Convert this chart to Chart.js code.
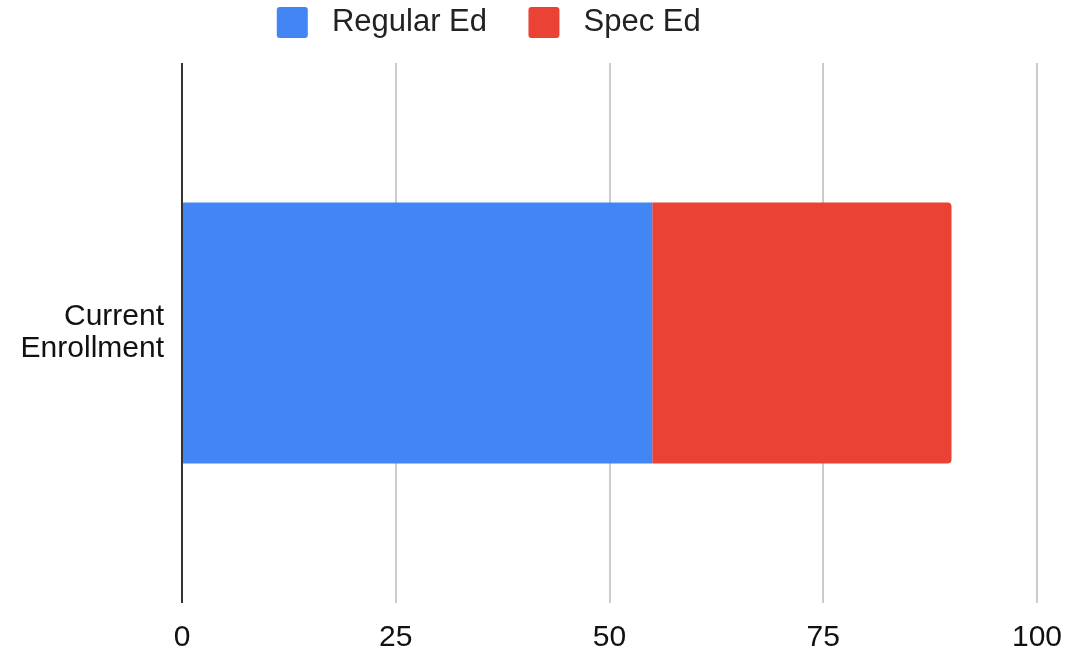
<!DOCTYPE html>
<html lang="en">
<head>
    <meta charset="UTF-8">
    <title>Current Enrollment</title>
    <script src="https://cdn.jsdelivr.net/npm/chart.js@4.4.0/dist/chart.umd.min.js"></script>
    <style>
        body { margin: 0; background: #fff; }
        #wrap { width: 1068px; height: 653px; }
    </style>
</head>
<body>
    <div id="wrap"><canvas id="enrollChart" width="1068" height="653"></canvas></div>

    <script>
        // data
        const categories = [['Current', 'Enrollment']];
        const regularEd = [55];
        const specEd = [35];
        const xTicks = [0, 25, 50, 75, 100];

        Chart.defaults.font.family = "'Liberation Sans', Arial, sans-serif";
        Chart.defaults.color = '#222';

        // legend: extra room under it, and centred a bit left of the canvas middle
        const legendTweaks = {
            id: 'legendTweaks',
            beforeInit(chart) {
                const fit = chart.legend.fit;
                chart.legend.fit = function () {
                    fit.call(this);
                    this.height += 15;
                };
            },
            afterLayout(chart) {
                chart.legend.right = chart.width - 56;
            }
        };

        const ctx = document.getElementById('enrollChart').getContext('2d');
        new Chart(ctx, {
            type: 'bar',
            data: {
                labels: categories,
                datasets: [{
                    label: 'Regular Ed',
                    data: regularEd,
                    backgroundColor: '#4285F4',
                    borderRadius: 0
                }, {
                    label: 'Spec Ed',
                    data: specEd,
                    backgroundColor: '#EA4335',
                    borderRadius: 4
                }]
            },
            plugins: [legendTweaks],
            options: {
                indexAxis: 'y',
                responsive: false,
                animation: false,
                layout: { padding: 0 },
                plugins: {
                    tooltip: { enabled: false },
                    legend: {
                        position: 'top',
                        labels: {
                            font: { size: 31 },
                            color: '#222',
                            boxWidth: 31,
                            boxHeight: 31,
                            useBorderRadius: true,
                            borderRadius: 3,
                            padding: 7,
                            generateLabels: chart => Chart.defaults.plugins.legend.labels.generateLabels(chart)
                                .map(item => ({ ...item, text: ' ' + item.text + '    ' }))
                        }
                    }
                },
                datasets: {
                    bar: { categoryPercentage: 1, barPercentage: 0.483 }
                },
                scales: {
                    x: {
                        stacked: true,
                        min: 0,
                        max: 100,
                        afterBuildTicks: axis => { axis.ticks = xTicks.map(v => ({ value: v })); },
                        afterFit: axis => {
                            axis.height = 50;
                            axis.paddingRight = 31;
                        },
                        border: { display: false },
                        grid: {
                            drawTicks: false,
                            lineWidth: 2,
                            color: c => c.tick && c.tick.value === 0 ? '#333' : '#ccc'
                        },
                        ticks: { font: { size: 30 }, padding: 17, color: '#111' }
                    },
                    y: {
                        stacked: true,
                        afterFit: axis => { axis.width = 182; },
                        border: { display: false },
                        grid: { display: false },
                        ticks: { font: { size: 30, lineHeight: 1.07 }, padding: 10, color: '#111' }
                    }
                }
            }
        });
    </script>
</body>
</html>
